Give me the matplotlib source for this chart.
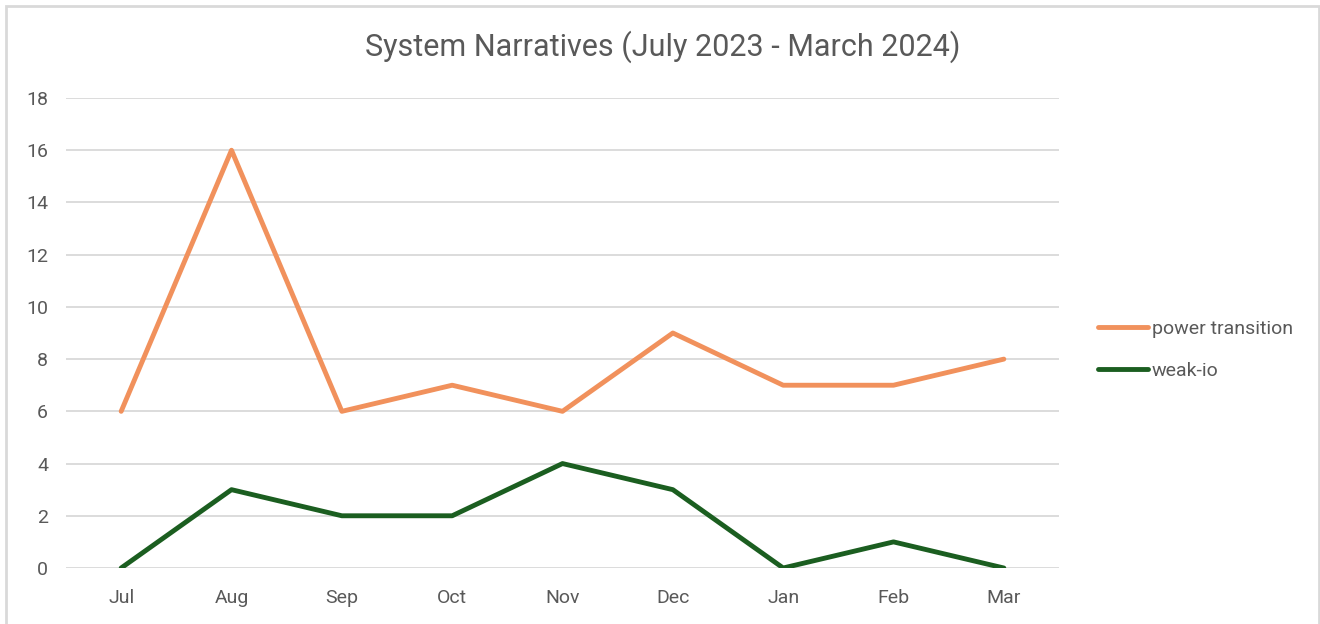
import matplotlib
matplotlib.use("Agg")
import matplotlib.pyplot as plt
from matplotlib.patches import Rectangle

months = ["Jul", "Aug", "Sep", "Oct", "Nov", "Dec", "Jan", "Feb", "Mar"]
power_transition = [6, 16, 6, 7, 6, 9, 7, 7, 8]
weak_io = [0, 3, 2, 2, 4, 3, 0, 1, 0]
y_ticks = [0, 2, 4, 6, 8, 10, 12, 14, 16, 18]

plt.rcParams['font.family'] = ['Roboto', 'DejaVu Sans']
text_color = "#595959"

fig = plt.figure(figsize=(13.2, 6.24), dpi=100)
fig.patch.set_facecolor("white")
ax = fig.add_axes([66/1320, 1-568/624, (1059-66)/1320, (568-98)/624])

x = list(range(len(months)))
ax.plot(x, power_transition, color="#F1915C", lw=3.5, label="power transition", solid_capstyle="round", solid_joinstyle="round")
ax.plot(x, weak_io, color="#1B5E20", lw=3.5, label="weak-io", solid_capstyle="round", solid_joinstyle="round")

ax.set_xlim(-0.5, len(months) - 0.5)
ax.set_ylim(0, 18)
ax.set_yticks(y_ticks)
ax.set_xticks(x)
ax.set_xticklabels(months)
ax.grid(axis="y", color="#D9D9D9", lw=1.3)
ax.set_axisbelow(True)
for s in ax.spines.values():
    s.set_visible(False)
ax.tick_params(axis="both", length=0, colors=text_color, labelsize=14)
ax.tick_params(axis="y", pad=13)
ax.tick_params(axis="x", pad=15)

fig.text(663/1320, 1-47/624, "System Narratives (July 2023 - March 2024)", ha="center", va="center",
         fontsize=22, color=text_color)

leg = ax.legend(loc="center left", bbox_to_anchor=(1080/1320, 1-350/624), bbox_transform=fig.transFigure,
                frameon=False, fontsize=14, labelcolor=text_color, handlelength=2.6, handletextpad=0.2,
                labelspacing=1.25)

fig.add_artist(Rectangle((6/1320, -0.05), (1313)/1320, 1 - 6/624 + 0.05, transform=fig.transFigure,
                         fill=False, edgecolor="#D9D9D9", lw=2))

fig.savefig("out.png", dpi=100)
